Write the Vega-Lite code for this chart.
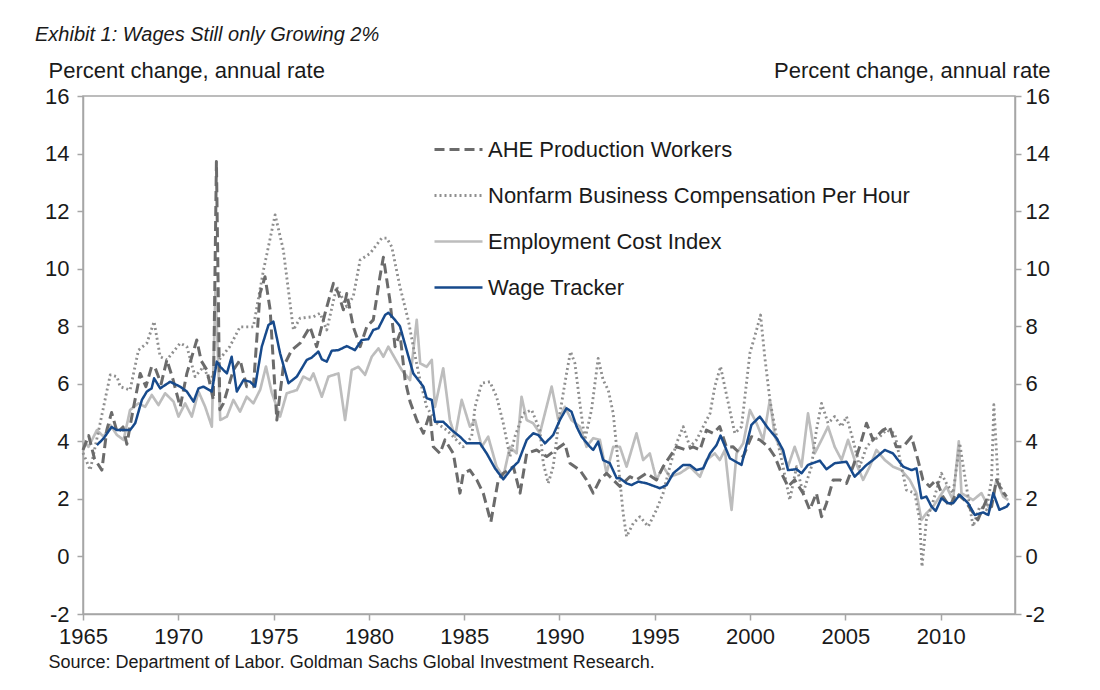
{
"$schema": "https://vega.github.io/schema/vega-lite/v6.json",
"width": 932, "height": 518,
"autosize": {"type": "none"},
"padding": {"left": 83, "top": 96, "right": 85, "bottom": 76},
"background": "white",
"config": {"font": "Liberation Sans", "view": {"stroke": "#a6a6a6", "strokeWidth": 1.5}},
"title": {"text": "Exhibit 1: Wages Still only Growing 2%", "anchor": "start", "frame": "group", "dx": -48, "fontSize": 20, "fontStyle": "italic", "fontWeight": "normal", "color": "#1a1a1a", "offset": 14},
"data": {"values": [
{"s":"ECI","t":1965.0,"v":4.05},{"s":"ECI","t":1965.29,"v":3.81},{"s":"ECI","t":1965.73,"v":4.39},{"s":"ECI","t":1966.08,"v":4.16},{"s":"ECI","t":1966.43,"v":4.57},{"s":"ECI","t":1966.78,"v":4.22},{"s":"ECI","t":1967.13,"v":4.05},{"s":"ECI","t":1967.47,"v":5.09},{"s":"ECI","t":1967.91,"v":5.32},{"s":"ECI","t":1968.26,"v":5.2},{"s":"ECI","t":1968.61,"v":5.61},{"s":"ECI","t":1968.96,"v":5.26},{"s":"ECI","t":1969.31,"v":5.67},{"s":"ECI","t":1969.75,"v":5.38},{"s":"ECI","t":1970.01,"v":4.86},{"s":"ECI","t":1970.36,"v":5.32},{"s":"ECI","t":1970.71,"v":4.86},{"s":"ECI","t":1971.06,"v":5.73},{"s":"ECI","t":1971.41,"v":5.2},{"s":"ECI","t":1971.76,"v":4.51},{"s":"ECI","t":1971.95,"v":9.3},{"s":"ECI","t":1972.2,"v":4.74},{"s":"ECI","t":1972.55,"v":4.86},{"s":"ECI","t":1972.89,"v":5.44},{"s":"ECI","t":1973.24,"v":5.03},{"s":"ECI","t":1973.59,"v":5.55},{"s":"ECI","t":1973.94,"v":5.32},{"s":"ECI","t":1974.3,"v":5.8},{"s":"ECI","t":1974.6,"v":6.6},{"s":"ECI","t":1974.9,"v":5.7},{"s":"ECI","t":1975.34,"v":4.86},{"s":"ECI","t":1975.69,"v":5.67},{"s":"ECI","t":1976.22,"v":5.78},{"s":"ECI","t":1976.56,"v":6.25},{"s":"ECI","t":1976.91,"v":6.13},{"s":"ECI","t":1977.09,"v":6.36},{"s":"ECI","t":1977.53,"v":5.55},{"s":"ECI","t":1977.88,"v":6.25},{"s":"ECI","t":1978.4,"v":6.36},{"s":"ECI","t":1978.75,"v":4.74},{"s":"ECI","t":1979.1,"v":6.48},{"s":"ECI","t":1979.45,"v":6.59},{"s":"ECI","t":1979.8,"v":6.31},{"s":"ECI","t":1980.15,"v":6.94},{"s":"ECI","t":1980.5,"v":7.23},{"s":"ECI","t":1980.76,"v":6.94},{"s":"ECI","t":1981.02,"v":7.29},{"s":"ECI","t":1981.37,"v":6.88},{"s":"ECI","t":1981.72,"v":6.48},{"s":"ECI","t":1982.16,"v":6.13},{"s":"ECI","t":1982.51,"v":8.22},{"s":"ECI","t":1982.69,"v":6.71},{"s":"ECI","t":1983.03,"v":6.59},{"s":"ECI","t":1983.3,"v":6.83},{"s":"ECI","t":1983.47,"v":5.2},{"s":"ECI","t":1983.9,"v":6.54},{"s":"ECI","t":1984.25,"v":4.74},{"s":"ECI","t":1984.52,"v":4.16},{"s":"ECI","t":1984.87,"v":5.44},{"s":"ECI","t":1985.3,"v":4.51},{"s":"ECI","t":1985.57,"v":4.74},{"s":"ECI","t":1985.92,"v":3.81},{"s":"ECI","t":1986.26,"v":4.16},{"s":"ECI","t":1986.7,"v":3.12},{"s":"ECI","t":1987.05,"v":2.77},{"s":"ECI","t":1987.4,"v":3.81},{"s":"ECI","t":1987.75,"v":3.58},{"s":"ECI","t":1988.01,"v":5.55},{"s":"ECI","t":1988.28,"v":4.74},{"s":"ECI","t":1988.62,"v":4.63},{"s":"ECI","t":1988.97,"v":4.28},{"s":"ECI","t":1989.59,"v":5.9},{"s":"ECI","t":1989.94,"v":4.74},{"s":"ECI","t":1990.28,"v":5.2},{"s":"ECI","t":1990.63,"v":4.74},{"s":"ECI","t":1991.07,"v":4.51},{"s":"ECI","t":1991.42,"v":3.81},{"s":"ECI","t":1991.77,"v":4.11},{"s":"ECI","t":1992.12,"v":4.05},{"s":"ECI","t":1992.47,"v":2.89},{"s":"ECI","t":1992.82,"v":3.81},{"s":"ECI","t":1993.17,"v":3.81},{"s":"ECI","t":1993.52,"v":3.12},{"s":"ECI","t":1994.04,"v":4.28},{"s":"ECI","t":1994.39,"v":3.35},{"s":"ECI","t":1994.74,"v":3.58},{"s":"ECI","t":1995.09,"v":2.66},{"s":"ECI","t":1995.44,"v":3.12},{"s":"ECI","t":1995.79,"v":2.77},{"s":"ECI","t":1996.32,"v":2.89},{"s":"ECI","t":1996.84,"v":3.12},{"s":"ECI","t":1997.37,"v":2.77},{"s":"ECI","t":1997.71,"v":3.35},{"s":"ECI","t":1998.15,"v":3.58},{"s":"ECI","t":1998.41,"v":3.35},{"s":"ECI","t":1998.68,"v":3.7},{"s":"ECI","t":1998.94,"v":2.08},{"s":"ECI","t":1999.03,"v":1.62},{"s":"ECI","t":1999.29,"v":3.58},{"s":"ECI","t":1999.64,"v":3.93},{"s":"ECI","t":1999.99,"v":5.09},{"s":"ECI","t":2000.34,"v":4.63},{"s":"ECI","t":2000.69,"v":4.05},{"s":"ECI","t":2001.04,"v":5.44},{"s":"ECI","t":2001.3,"v":4.16},{"s":"ECI","t":2001.65,"v":3.7},{"s":"ECI","t":2001.99,"v":3.12},{"s":"ECI","t":2002.34,"v":3.81},{"s":"ECI","t":2002.7,"v":3.12},{"s":"ECI","t":2003.04,"v":4.97},{"s":"ECI","t":2003.39,"v":3.58},{"s":"ECI","t":2003.75,"v":4.05},{"s":"ECI","t":2004.09,"v":4.51},{"s":"ECI","t":2004.44,"v":3.81},{"s":"ECI","t":2004.8,"v":3.35},{"s":"ECI","t":2005.14,"v":4.05},{"s":"ECI","t":2005.49,"v":3.35},{"s":"ECI","t":2005.93,"v":2.66},{"s":"ECI","t":2006.28,"v":3.12},{"s":"ECI","t":2006.63,"v":3.7},{"s":"ECI","t":2007.07,"v":3.35},{"s":"ECI","t":2007.5,"v":3.12},{"s":"ECI","t":2007.94,"v":3.0},{"s":"ECI","t":2008.38,"v":2.66},{"s":"ECI","t":2008.73,"v":2.2},{"s":"ECI","t":2008.99,"v":1.27},{"s":"ECI","t":2009.25,"v":1.5},{"s":"ECI","t":2009.6,"v":1.73},{"s":"ECI","t":2009.95,"v":2.08},{"s":"ECI","t":2010.3,"v":2.43},{"s":"ECI","t":2010.65,"v":1.96},{"s":"ECI","t":2010.95,"v":4.0},{"s":"ECI","t":2011.09,"v":2.2},{"s":"ECI","t":2011.7,"v":1.96},{"s":"ECI","t":2012.14,"v":2.2},{"s":"ECI","t":2012.58,"v":1.62},{"s":"ECI","t":2012.93,"v":2.66},{"s":"ECI","t":2013.28,"v":2.08},{"s":"ECI","t":2013.54,"v":1.96},
{"s":"NFB","t":1965.0,"v":3.6},{"s":"NFB","t":1965.38,"v":3.0},{"s":"NFB","t":1965.9,"v":4.63},{"s":"NFB","t":1966.43,"v":6.31},{"s":"NFB","t":1966.78,"v":6.25},{"s":"NFB","t":1966.95,"v":5.9},{"s":"NFB","t":1967.47,"v":5.78},{"s":"NFB","t":1967.91,"v":7.17},{"s":"NFB","t":1968.35,"v":7.41},{"s":"NFB","t":1968.73,"v":8.16},{"s":"NFB","t":1969.05,"v":6.94},{"s":"NFB","t":1969.4,"v":6.83},{"s":"NFB","t":1970.1,"v":7.41},{"s":"NFB","t":1970.45,"v":7.29},{"s":"NFB","t":1970.88,"v":6.25},{"s":"NFB","t":1971.32,"v":6.59},{"s":"NFB","t":1971.67,"v":6.07},{"s":"NFB","t":1972.1,"v":6.8},{"s":"NFB","t":1972.7,"v":7.29},{"s":"NFB","t":1973.24,"v":7.98},{"s":"NFB","t":1973.94,"v":7.98},{"s":"NFB","t":1974.47,"v":9.95},{"s":"NFB","t":1975.08,"v":11.87},{"s":"NFB","t":1975.51,"v":10.65},{"s":"NFB","t":1976.04,"v":7.87},{"s":"NFB","t":1976.39,"v":8.28},{"s":"NFB","t":1977.09,"v":8.33},{"s":"NFB","t":1977.44,"v":8.45},{"s":"NFB","t":1977.79,"v":7.87},{"s":"NFB","t":1978.31,"v":9.37},{"s":"NFB","t":1978.84,"v":8.68},{"s":"NFB","t":1979.18,"v":9.03},{"s":"NFB","t":1979.54,"v":10.3},{"s":"NFB","t":1980.06,"v":10.53},{"s":"NFB","t":1980.67,"v":11.06},{"s":"NFB","t":1980.94,"v":11.06},{"s":"NFB","t":1981.2,"v":10.76},{"s":"NFB","t":1981.63,"v":9.37},{"s":"NFB","t":1982.07,"v":8.2},{"s":"NFB","t":1982.33,"v":7.29},{"s":"NFB","t":1982.68,"v":6.13},{"s":"NFB","t":1983.03,"v":5.2},{"s":"NFB","t":1983.56,"v":4.63},{"s":"NFB","t":1984.08,"v":4.39},{"s":"NFB","t":1984.43,"v":4.16},{"s":"NFB","t":1984.95,"v":3.81},{"s":"NFB","t":1985.39,"v":4.16},{"s":"NFB","t":1985.57,"v":5.2},{"s":"NFB","t":1985.92,"v":6.02},{"s":"NFB","t":1986.35,"v":6.07},{"s":"NFB","t":1986.7,"v":5.55},{"s":"NFB","t":1987.05,"v":4.63},{"s":"NFB","t":1987.4,"v":3.47},{"s":"NFB","t":1987.66,"v":4.16},{"s":"NFB","t":1988.1,"v":4.97},{"s":"NFB","t":1988.54,"v":5.09},{"s":"NFB","t":1988.97,"v":4.39},{"s":"NFB","t":1989.15,"v":3.24},{"s":"NFB","t":1989.41,"v":2.54},{"s":"NFB","t":1989.67,"v":3.12},{"s":"NFB","t":1990.02,"v":4.97},{"s":"NFB","t":1990.37,"v":6.36},{"s":"NFB","t":1990.58,"v":7.12},{"s":"NFB","t":1990.81,"v":6.71},{"s":"NFB","t":1991.07,"v":5.32},{"s":"NFB","t":1991.33,"v":4.05},{"s":"NFB","t":1991.68,"v":5.09},{"s":"NFB","t":1992.03,"v":6.88},{"s":"NFB","t":1992.29,"v":6.13},{"s":"NFB","t":1992.56,"v":5.78},{"s":"NFB","t":1992.82,"v":4.97},{"s":"NFB","t":1993.08,"v":3.24},{"s":"NFB","t":1993.34,"v":1.5},{"s":"NFB","t":1993.52,"v":0.69},{"s":"NFB","t":1993.87,"v":1.15},{"s":"NFB","t":1994.22,"v":1.38},{"s":"NFB","t":1994.66,"v":1.04},{"s":"NFB","t":1995.09,"v":1.62},{"s":"NFB","t":1995.44,"v":2.2},{"s":"NFB","t":1995.79,"v":3.12},{"s":"NFB","t":1996.14,"v":3.93},{"s":"NFB","t":1996.49,"v":4.51},{"s":"NFB","t":1996.84,"v":3.81},{"s":"NFB","t":1997.19,"v":4.05},{"s":"NFB","t":1997.54,"v":4.51},{"s":"NFB","t":1997.9,"v":4.97},{"s":"NFB","t":1998.15,"v":5.9},{"s":"NFB","t":1998.45,"v":6.6},{"s":"NFB","t":1998.8,"v":5.5},{"s":"NFB","t":1999.2,"v":4.28},{"s":"NFB","t":1999.55,"v":4.51},{"s":"NFB","t":1999.99,"v":7.06},{"s":"NFB","t":2000.34,"v":7.87},{"s":"NFB","t":2000.55,"v":8.39},{"s":"NFB","t":2000.77,"v":6.94},{"s":"NFB","t":2001.04,"v":5.44},{"s":"NFB","t":2001.39,"v":4.16},{"s":"NFB","t":2001.73,"v":3.12},{"s":"NFB","t":2002.08,"v":1.96},{"s":"NFB","t":2002.44,"v":3.12},{"s":"NFB","t":2002.78,"v":2.2},{"s":"NFB","t":2003.22,"v":3.12},{"s":"NFB","t":2003.48,"v":4.39},{"s":"NFB","t":2003.75,"v":5.32},{"s":"NFB","t":2004.09,"v":4.63},{"s":"NFB","t":2004.44,"v":4.86},{"s":"NFB","t":2004.8,"v":4.51},{"s":"NFB","t":2005.06,"v":4.86},{"s":"NFB","t":2005.4,"v":4.05},{"s":"NFB","t":2005.75,"v":3.12},{"s":"NFB","t":2006.11,"v":3.81},{"s":"NFB","t":2006.45,"v":4.05},{"s":"NFB","t":2006.8,"v":4.16},{"s":"NFB","t":2007.15,"v":4.39},{"s":"NFB","t":2007.59,"v":4.28},{"s":"NFB","t":2007.94,"v":3.12},{"s":"NFB","t":2008.2,"v":2.31},{"s":"NFB","t":2008.64,"v":2.2},{"s":"NFB","t":2008.9,"v":1.27},{"s":"NFB","t":2009.02,"v":-0.36},{"s":"NFB","t":2009.25,"v":1.27},{"s":"NFB","t":2009.52,"v":1.73},{"s":"NFB","t":2010.04,"v":2.89},{"s":"NFB","t":2010.3,"v":2.54},{"s":"NFB","t":2010.65,"v":2.2},{"s":"NFB","t":2011.0,"v":3.93},{"s":"NFB","t":2011.35,"v":2.43},{"s":"NFB","t":2011.7,"v":1.04},{"s":"NFB","t":2012.05,"v":1.73},{"s":"NFB","t":2012.4,"v":1.62},{"s":"NFB","t":2012.67,"v":2.66},{"s":"NFB","t":2012.79,"v":5.27},{"s":"NFB","t":2013.01,"v":2.66},{"s":"NFB","t":2013.36,"v":2.08},
{"s":"AHE","t":1965.0,"v":3.7},{"s":"AHE","t":1965.3,"v":4.2},{"s":"AHE","t":1965.6,"v":3.4},{"s":"AHE","t":1965.99,"v":3.0},{"s":"AHE","t":1966.25,"v":4.4},{"s":"AHE","t":1966.5,"v":5.0},{"s":"AHE","t":1966.8,"v":4.3},{"s":"AHE","t":1967.1,"v":4.5},{"s":"AHE","t":1967.3,"v":3.9},{"s":"AHE","t":1967.6,"v":5.0},{"s":"AHE","t":1968.0,"v":6.36},{"s":"AHE","t":1968.3,"v":5.9},{"s":"AHE","t":1968.6,"v":6.6},{"s":"AHE","t":1968.79,"v":6.54},{"s":"AHE","t":1969.1,"v":6.0},{"s":"AHE","t":1969.4,"v":6.83},{"s":"AHE","t":1969.7,"v":6.2},{"s":"AHE","t":1970.1,"v":5.2},{"s":"AHE","t":1970.45,"v":6.36},{"s":"AHE","t":1970.97,"v":7.52},{"s":"AHE","t":1971.2,"v":6.8},{"s":"AHE","t":1971.5,"v":6.48},{"s":"AHE","t":1971.84,"v":5.44},{"s":"AHE","t":1972.0,"v":13.72},{"s":"AHE","t":1972.18,"v":5.1},{"s":"AHE","t":1972.37,"v":5.32},{"s":"AHE","t":1972.89,"v":6.48},{"s":"AHE","t":1973.24,"v":6.83},{"s":"AHE","t":1973.59,"v":5.9},{"s":"AHE","t":1973.94,"v":5.9},{"s":"AHE","t":1974.29,"v":9.14},{"s":"AHE","t":1974.55,"v":9.72},{"s":"AHE","t":1974.82,"v":8.57},{"s":"AHE","t":1975.17,"v":4.74},{"s":"AHE","t":1975.51,"v":6.59},{"s":"AHE","t":1975.95,"v":7.17},{"s":"AHE","t":1976.39,"v":7.41},{"s":"AHE","t":1976.91,"v":7.98},{"s":"AHE","t":1977.26,"v":7.29},{"s":"AHE","t":1977.7,"v":8.45},{"s":"AHE","t":1978.14,"v":9.49},{"s":"AHE","t":1978.4,"v":9.14},{"s":"AHE","t":1978.66,"v":8.57},{"s":"AHE","t":1978.84,"v":9.14},{"s":"AHE","t":1979.18,"v":7.98},{"s":"AHE","t":1979.54,"v":7.29},{"s":"AHE","t":1979.89,"v":7.98},{"s":"AHE","t":1980.23,"v":8.22},{"s":"AHE","t":1980.58,"v":9.72},{"s":"AHE","t":1980.76,"v":10.4},{"s":"AHE","t":1981.1,"v":8.91},{"s":"AHE","t":1981.37,"v":7.29},{"s":"AHE","t":1981.63,"v":7.75},{"s":"AHE","t":1981.9,"v":6.13},{"s":"AHE","t":1982.16,"v":5.38},{"s":"AHE","t":1982.51,"v":4.74},{"s":"AHE","t":1982.86,"v":4.28},{"s":"AHE","t":1983.2,"v":4.97},{"s":"AHE","t":1983.38,"v":3.81},{"s":"AHE","t":1983.73,"v":3.58},{"s":"AHE","t":1983.99,"v":4.05},{"s":"AHE","t":1984.43,"v":3.58},{"s":"AHE","t":1984.78,"v":2.2},{"s":"AHE","t":1984.95,"v":2.89},{"s":"AHE","t":1985.3,"v":3.0},{"s":"AHE","t":1985.66,"v":2.66},{"s":"AHE","t":1986.0,"v":2.2},{"s":"AHE","t":1986.4,"v":1.2},{"s":"AHE","t":1986.6,"v":1.96},{"s":"AHE","t":1986.79,"v":2.66},{"s":"AHE","t":1987.05,"v":2.89},{"s":"AHE","t":1987.58,"v":3.12},{"s":"AHE","t":1987.93,"v":2.2},{"s":"AHE","t":1988.28,"v":3.58},{"s":"AHE","t":1988.8,"v":3.7},{"s":"AHE","t":1989.33,"v":3.47},{"s":"AHE","t":1990.02,"v":3.81},{"s":"AHE","t":1990.28,"v":3.93},{"s":"AHE","t":1990.55,"v":3.24},{"s":"AHE","t":1991.07,"v":3.0},{"s":"AHE","t":1991.42,"v":2.66},{"s":"AHE","t":1991.77,"v":2.2},{"s":"AHE","t":1992.12,"v":2.66},{"s":"AHE","t":1992.47,"v":2.89},{"s":"AHE","t":1992.82,"v":2.66},{"s":"AHE","t":1993.17,"v":2.43},{"s":"AHE","t":1993.69,"v":2.77},{"s":"AHE","t":1994.04,"v":2.66},{"s":"AHE","t":1994.57,"v":2.89},{"s":"AHE","t":1995.09,"v":2.66},{"s":"AHE","t":1995.44,"v":3.12},{"s":"AHE","t":1995.79,"v":3.47},{"s":"AHE","t":1996.14,"v":3.81},{"s":"AHE","t":1996.66,"v":3.7},{"s":"AHE","t":1997.01,"v":3.81},{"s":"AHE","t":1997.37,"v":3.7},{"s":"AHE","t":1997.71,"v":4.39},{"s":"AHE","t":1998.06,"v":4.28},{"s":"AHE","t":1998.41,"v":4.51},{"s":"AHE","t":1998.76,"v":3.8},{"s":"AHE","t":1999.11,"v":3.81},{"s":"AHE","t":1999.64,"v":3.47},{"s":"AHE","t":2000.07,"v":4.16},{"s":"AHE","t":2000.51,"v":4.05},{"s":"AHE","t":2000.95,"v":3.81},{"s":"AHE","t":2001.3,"v":3.47},{"s":"AHE","t":2001.65,"v":2.89},{"s":"AHE","t":2001.99,"v":2.43},{"s":"AHE","t":2002.34,"v":2.66},{"s":"AHE","t":2002.78,"v":2.2},{"s":"AHE","t":2003.13,"v":1.62},{"s":"AHE","t":2003.48,"v":2.2},{"s":"AHE","t":2003.75,"v":1.38},{"s":"AHE","t":2004.01,"v":1.85},{"s":"AHE","t":2004.36,"v":2.66},{"s":"AHE","t":2004.71,"v":2.66},{"s":"AHE","t":2005.06,"v":2.54},{"s":"AHE","t":2005.4,"v":3.12},{"s":"AHE","t":2005.75,"v":3.81},{"s":"AHE","t":2006.11,"v":4.63},{"s":"AHE","t":2006.45,"v":4.05},{"s":"AHE","t":2006.97,"v":4.39},{"s":"AHE","t":2007.32,"v":4.51},{"s":"AHE","t":2007.67,"v":3.81},{"s":"AHE","t":2008.03,"v":3.81},{"s":"AHE","t":2008.47,"v":4.16},{"s":"AHE","t":2008.81,"v":3.35},{"s":"AHE","t":2009.07,"v":2.66},{"s":"AHE","t":2009.42,"v":2.43},{"s":"AHE","t":2009.77,"v":2.66},{"s":"AHE","t":2010.12,"v":2.08},{"s":"AHE","t":2010.47,"v":1.73},{"s":"AHE","t":2010.82,"v":2.2},{"s":"AHE","t":2011.25,"v":1.96},{"s":"AHE","t":2011.6,"v":1.62},{"s":"AHE","t":2011.95,"v":1.27},{"s":"AHE","t":2012.4,"v":1.96},{"s":"AHE","t":2012.67,"v":1.73},{"s":"AHE","t":2012.93,"v":2.66},{"s":"AHE","t":2013.19,"v":2.31},{"s":"AHE","t":2013.46,"v":2.08},
{"s":"WT","t":1965.73,"v":3.87},{"s":"WT","t":1966.08,"v":4.1},{"s":"WT","t":1966.5,"v":4.5},{"s":"WT","t":1966.78,"v":4.39},{"s":"WT","t":1967.47,"v":4.39},{"s":"WT","t":1967.74,"v":4.63},{"s":"WT","t":1968.09,"v":5.44},{"s":"WT","t":1968.35,"v":5.73},{"s":"WT","t":1968.6,"v":5.84},{"s":"WT","t":1968.73,"v":6.19},{"s":"WT","t":1969.05,"v":5.84},{"s":"WT","t":1969.57,"v":6.07},{"s":"WT","t":1970.1,"v":5.9},{"s":"WT","t":1970.45,"v":5.73},{"s":"WT","t":1970.8,"v":5.38},{"s":"WT","t":1971.06,"v":5.84},{"s":"WT","t":1971.32,"v":5.9},{"s":"WT","t":1971.76,"v":5.73},{"s":"WT","t":1972.02,"v":6.77},{"s":"WT","t":1972.2,"v":6.59},{"s":"WT","t":1972.55,"v":6.36},{"s":"WT","t":1972.8,"v":6.94},{"s":"WT","t":1973.07,"v":5.73},{"s":"WT","t":1973.42,"v":6.13},{"s":"WT","t":1973.77,"v":6.07},{"s":"WT","t":1974.03,"v":5.9},{"s":"WT","t":1974.38,"v":7.29},{"s":"WT","t":1974.73,"v":8.04},{"s":"WT","t":1974.99,"v":8.16},{"s":"WT","t":1975.34,"v":7.06},{"s":"WT","t":1975.78,"v":6.02},{"s":"WT","t":1976.22,"v":6.25},{"s":"WT","t":1976.74,"v":6.83},{"s":"WT","t":1977.0,"v":6.91},{"s":"WT","t":1977.35,"v":7.12},{"s":"WT","t":1977.53,"v":6.85},{"s":"WT","t":1977.79,"v":6.77},{"s":"WT","t":1978.05,"v":7.15},{"s":"WT","t":1978.4,"v":7.17},{"s":"WT","t":1978.84,"v":7.31},{"s":"WT","t":1979.27,"v":7.17},{"s":"WT","t":1979.62,"v":7.52},{"s":"WT","t":1979.97,"v":7.55},{"s":"WT","t":1980.23,"v":7.87},{"s":"WT","t":1980.5,"v":7.93},{"s":"WT","t":1980.85,"v":8.39},{"s":"WT","t":1981.02,"v":8.47},{"s":"WT","t":1981.37,"v":8.22},{"s":"WT","t":1981.63,"v":8.0},{"s":"WT","t":1981.98,"v":7.17},{"s":"WT","t":1982.33,"v":6.36},{"s":"WT","t":1982.86,"v":5.9},{"s":"WT","t":1983.03,"v":5.5},{"s":"WT","t":1983.3,"v":5.44},{"s":"WT","t":1983.47,"v":4.68},{"s":"WT","t":1983.9,"v":4.68},{"s":"WT","t":1984.35,"v":4.39},{"s":"WT","t":1984.78,"v":4.16},{"s":"WT","t":1985.13,"v":3.93},{"s":"WT","t":1985.83,"v":3.93},{"s":"WT","t":1986.18,"v":3.58},{"s":"WT","t":1986.62,"v":3.06},{"s":"WT","t":1987.05,"v":2.68},{"s":"WT","t":1987.49,"v":3.06},{"s":"WT","t":1987.84,"v":3.29},{"s":"WT","t":1988.28,"v":4.05},{"s":"WT","t":1988.62,"v":4.28},{"s":"WT","t":1988.89,"v":4.22},{"s":"WT","t":1989.24,"v":3.93},{"s":"WT","t":1989.67,"v":4.22},{"s":"WT","t":1990.02,"v":4.74},{"s":"WT","t":1990.37,"v":5.15},{"s":"WT","t":1990.63,"v":5.03},{"s":"WT","t":1990.9,"v":4.51},{"s":"WT","t":1991.16,"v":4.16},{"s":"WT","t":1991.6,"v":3.81},{"s":"WT","t":1991.77,"v":3.7},{"s":"WT","t":1992.03,"v":3.99},{"s":"WT","t":1992.29,"v":3.35},{"s":"WT","t":1992.64,"v":3.24},{"s":"WT","t":1993.0,"v":2.72},{"s":"WT","t":1993.17,"v":2.72},{"s":"WT","t":1993.52,"v":2.54},{"s":"WT","t":1993.78,"v":2.48},{"s":"WT","t":1994.13,"v":2.6},{"s":"WT","t":1994.57,"v":2.54},{"s":"WT","t":1995.27,"v":2.37},{"s":"WT","t":1995.62,"v":2.48},{"s":"WT","t":1995.97,"v":2.89},{"s":"WT","t":1996.49,"v":3.18},{"s":"WT","t":1996.84,"v":3.18},{"s":"WT","t":1997.19,"v":3.0},{"s":"WT","t":1997.54,"v":3.06},{"s":"WT","t":1997.9,"v":3.58},{"s":"WT","t":1998.24,"v":3.87},{"s":"WT","t":1998.45,"v":4.2},{"s":"WT","t":1998.94,"v":3.41},{"s":"WT","t":1999.55,"v":3.18},{"s":"WT","t":2000.07,"v":4.57},{"s":"WT","t":2000.51,"v":4.86},{"s":"WT","t":2000.95,"v":4.45},{"s":"WT","t":2001.39,"v":4.11},{"s":"WT","t":2001.73,"v":3.7},{"s":"WT","t":2001.99,"v":3.0},{"s":"WT","t":2002.44,"v":3.03},{"s":"WT","t":2002.7,"v":2.89},{"s":"WT","t":2003.04,"v":3.18},{"s":"WT","t":2003.66,"v":3.33},{"s":"WT","t":2004.01,"v":3.03},{"s":"WT","t":2004.44,"v":3.24},{"s":"WT","t":2005.06,"v":3.29},{"s":"WT","t":2005.49,"v":2.77},{"s":"WT","t":2006.11,"v":3.18},{"s":"WT","t":2006.45,"v":3.35},{"s":"WT","t":2007.07,"v":3.7},{"s":"WT","t":2007.5,"v":3.58},{"s":"WT","t":2008.03,"v":3.12},{"s":"WT","t":2008.47,"v":3.0},{"s":"WT","t":2008.73,"v":3.06},{"s":"WT","t":2008.99,"v":2.02},{"s":"WT","t":2009.25,"v":2.08},{"s":"WT","t":2009.52,"v":1.73},{"s":"WT","t":2009.74,"v":1.58},{"s":"WT","t":2010.04,"v":2.02},{"s":"WT","t":2010.39,"v":1.85},{"s":"WT","t":2010.65,"v":1.85},{"s":"WT","t":2011.0,"v":2.14},{"s":"WT","t":2011.44,"v":1.85},{"s":"WT","t":2011.79,"v":1.44},{"s":"WT","t":2012.23,"v":1.53},{"s":"WT","t":2012.5,"v":1.44},{"s":"WT","t":2012.76,"v":2.2},{"s":"WT","t":2013.08,"v":1.62},{"s":"WT","t":2013.46,"v":1.73},{"s":"WT","t":2013.6,"v":1.85}
]},
"encoding": {
  "x": {"field": "t", "type": "quantitative",
    "scale": {"domain": [1965, 2013.9], "nice": false, "zero": false},
    "axis": {"values": [1965,1970,1975,1980,1985,1990,1995,2000,2005,2010], "format": "d", "labelFlush": false, "grid": false,
      "domainColor": "#a6a6a6", "domainWidth": 1.5, "tickColor": "#a6a6a6", "tickWidth": 1.5, "tickSize": 6,
      "labelFontSize": 22, "labelColor": "#1a1a1a", "labelPadding": 6,
      "title": "Source: Department of Labor. Goldman Sachs Global Investment Research.",
      "titleAnchor": "start", "titleX": -35, "titleY": 53, "titleAlign": "left", "titleBaseline": "alphabetic",
      "titleFontSize": 18, "titleFontWeight": "normal", "titleColor": "#1a1a1a"}}
},
"layer": [
  {
    "mark": {"type": "line", "strokeJoin": "round"},
    "encoding": {
      "y": {"field": "v", "type": "quantitative", "scale": {"domain": [-2, 16], "nice": false, "zero": false},
        "axis": {"values": [-2,0,2,4,6,8,10,12,14,16], "grid": false, "orient": "left", "labelExpr": "'' + datum.value",
          "domainColor": "#a6a6a6", "domainWidth": 1.5, "tickColor": "#a6a6a6", "tickWidth": 1.5, "tickSize": 6,
          "labelFontSize": 22, "labelColor": "#1a1a1a", "labelPadding": 8,
          "title": "Percent change, annual rate", "titleAngle": 0, "titleX": -35, "titleY": -19, "titleAlign": "left", "titleBaseline": "alphabetic",
          "titleFontSize": 22, "titleFontWeight": "normal", "titleColor": "#1a1a1a"}},
      "color": {"field": "s", "type": "nominal",
        "scale": {"domain": ["AHE","NFB","ECI","WT"], "range": ["#6b6b6b","#8f8f8f","#bdbdbd","#174a8c"]},
        "legend": {"orient": "none", "legendX": 350, "legendY": 28, "title": null, "symbolType": "stroke", "symbolSize": 2304, "symbolStrokeWidth": 3,
          "labelFontSize": 22, "labelColor": "#1a1a1a", "labelOffset": 4, "rowPadding": 9, "labelLimit": 700,
          "labelExpr": "{'AHE': 'AHE Production Workers', 'NFB': 'Nonfarm Business Compensation Per Hour', 'ECI': 'Employment Cost Index', 'WT': 'Wage Tracker'}[datum.value]"}},
      "strokeDash": {"field": "s", "type": "nominal",
        "scale": {"domain": ["AHE","NFB","ECI","WT"], "range": [[10,5],[2,3],[1,0],[1,0]]}},
      "strokeWidth": {"field": "s", "type": "ordinal",
        "scale": {"domain": ["AHE","NFB","ECI","WT"], "range": [3, 2.5, 3, 3.5]}, "legend": null}
    }
  },
  {
    "mark": {"type": "point", "opacity": 0},
    "encoding": {
      "y": {"field": "v", "type": "quantitative", "scale": {"domain": [-2, 16], "nice": false, "zero": false},
        "axis": {"values": [-2,0,2,4,6,8,10,12,14,16], "grid": false, "orient": "right", "labelExpr": "'' + datum.value",
          "domainColor": "#a6a6a6", "domainWidth": 1.5, "tickColor": "#a6a6a6", "tickWidth": 1.5, "tickSize": 6,
          "labelFontSize": 22, "labelColor": "#1a1a1a", "labelPadding": 4,
          "title": "Percent change, annual rate", "titleAngle": 0, "titleX": 35, "titleY": -19, "titleAlign": "right", "titleBaseline": "alphabetic",
          "titleFontSize": 22, "titleFontWeight": "normal", "titleColor": "#1a1a1a"}}
    }
  }
],
"resolve": {"scale": {"y": "shared"}, "axis": {"y": "independent"}}
}
